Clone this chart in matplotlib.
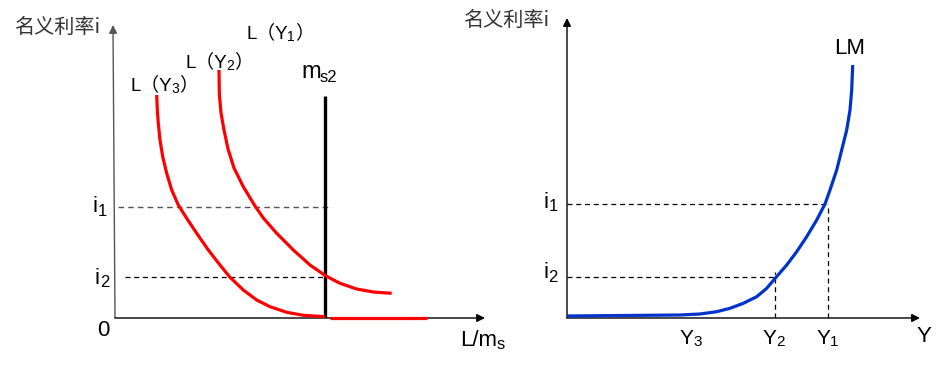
import matplotlib
matplotlib.use('Agg')
import matplotlib.pyplot as plt

plt.rcParams['font.family'] = ['Liberation Sans', 'Noto Sans CJK SC']

# ---------------- data ----------------
# left panel: money demand curves (quantity, interest rate)
ly3_q = [4.17, 4.23, 4.33, 4.5, 4.77, 5.17, 5.67, 6.33, 7.17, 8.17, 9.33, 10.5,
         11.5, 12.83, 14.17, 15.5, 17.17, 18.83, 21.0]
ly3_i = [22.3, 20.8, 19.47, 17.8, 16.13, 14.47, 12.8, 11.3, 9.97, 8.47, 6.8, 5.3,
         4.07, 2.8, 1.8, 1.13, 0.57, 0.27, 0.13]
ly3_flat_q = [21.5, 31.2]
ly3_flat_i = [0.0, 0.0]
ly2_q = [10.4, 10.43, 10.6, 10.9, 11.3, 11.9, 12.83, 14.0, 14.83, 16.17, 17.83,
         19.5, 21.1, 22.5, 24.17, 25.83, 27.67]
ly2_i = [24.8, 22.47, 20.5, 18.8, 16.9, 15.0, 13.13, 11.2, 10.0, 8.47, 6.8,
         5.3, 4.2, 3.47, 2.9, 2.6, 2.47]
ms2 = 21.0
ms2_top = 22.2
left_i1, left_i2 = 11.1, 4.1

# right panel: LM curve (income, interest rate)
lm_y = [0.0, 11.3, 13.3, 14.97, 16.3, 17.63, 18.97, 19.97, 20.9, 21.97, 22.97,
        23.97, 24.97, 25.8, 26.3, 26.97, 27.47, 27.97, 28.3, 28.47, 28.57]
lm_i = [0.2, 0.3, 0.4, 0.63, 0.97, 1.47, 2.13, 2.97, 4.07, 5.3, 6.63,
        8.13, 9.8, 11.4, 12.8, 14.8, 16.8, 18.8, 20.8, 22.8, 25.3]
right_i1, right_i2 = 11.4, 4.1
Y1, Y2, Y3 = 26.1, 20.8, 12.3

RED = '#ff0000'
BLUE = '#0033cc'

fig = plt.figure(figsize=(9.47, 3.66), dpi=100)
ax1 = fig.add_axes([115/947, 48/366, 370/947, 298/366])
ax2 = fig.add_axes([567/947, 48/366, 353/947, 298/366])
for ax in (ax1, ax2):
    ax.set_axis_off()
ax1.set_xlim(0, 37)
ax1.set_ylim(0, 29.8)
ax2.set_xlim(0, 35.3)
ax2.set_ylim(0, 29.8)


def arrow(ax, start, tip, color='black', lw=1.0):
    ax.annotate('', xy=tip, xytext=start, annotation_clip=False, zorder=2,
                arrowprops=dict(arrowstyle='-|>', color=color, lw=lw,
                                mutation_scale=12, shrinkA=0, shrinkB=0))


def sublabel(ax, x, y, main, sub, tail='', size=16, subsize=11, color='black', dx=-0.4):
    t = ax.text(x, y, main, fontsize=size, color=color, ha='left', va='center')
    s = ax.annotate(sub, xy=(1, 0), xycoords=t, xytext=(dx, -1.2),
                    textcoords='offset points', fontsize=subsize,
                    va='bottom', ha='left', color=color)
    if tail:
        ax.annotate(tail, xy=(1, 0.5), xycoords=(s, t), xytext=(0, 0),
                    textcoords='offset points', fontsize=size,
                    va='center', ha='left', color=color)
    return t


def curve(ax, x, y, color):
    ax.plot(x, y, color=color, lw=2.3, solid_joinstyle='round',
            solid_capstyle='butt', clip_on=False, zorder=5)

# ---------------- left panel ----------------
arrow(ax1, (0, 0), (-0.2, 29.3), color='#555555', lw=1.0)
arrow(ax1, (0, 0), (37, 0), color='black', lw=1.0)
ax1.plot([0.3, 21.7], [left_i1, left_i1], ls=(0, (4, 3)), color='#555555', lw=1.0)
ax1.plot([1.0, 21.0], [left_i2, left_i2], ls=(0, (4, 3)), color='black', lw=0.9)
ax1.plot([ms2, ms2], [0, ms2_top], color='black', lw=2.4, solid_capstyle='butt', zorder=4)
curve(ax1, ly3_q, ly3_i, RED)
curve(ax1, ly3_flat_q, ly3_flat_i, RED)
curve(ax1, ly2_q, ly2_i, RED)

ax1.text(-10.1, 29.1, '名义利率i', fontsize=14.5, color='#333333', ha='left', va='center',
         family=['Noto Sans CJK SC'])
sublabel(ax1, -2.3, left_i1, 'i', '1', size=16, subsize=12, dx=0.3)
sublabel(ax1, -2.0, left_i2 - 0.1, 'i', '2', size=16, subsize=12, dx=0.3)
ax1.text(-1.2, -1.2, '0', fontsize=16, ha='center', va='center')
sublabel(ax1, 34.5, -2.2, 'L/m', 's', size=16, subsize=12)
sublabel(ax1, 1.5, 23.3, 'L（Y', '3', '）', size=13.5, subsize=10)
sublabel(ax1, 7.0, 25.6, 'L（Y', '2', '）', size=13.5, subsize=10)
sublabel(ax1, 13.1, 28.5, 'L（Y', '1', '）', size=13.5, subsize=10)
sublabel(ax1, 18.6, 24.6, 'm', 's2', size=17, subsize=12)

# ---------------- right panel ----------------
arrow(ax2, (0, 0), (0, 30.0), color='black', lw=1.0)
arrow(ax2, (0, 0), (35.3, 0), color='black', lw=1.0)
ax2.plot([0, Y1], [right_i1, right_i1], ls=(0, (4, 3)), color='black', lw=0.9)
ax2.plot([0, Y2], [right_i2, right_i2], ls=(0, (4, 3)), color='black', lw=0.9)
ax2.plot([Y1, Y1], [0, right_i1], ls=(0, (4, 3)), color='black', lw=0.9)
ax2.plot([Y2, Y2], [0, right_i2 + 0.5], ls=(0, (4, 3)), color='black', lw=0.9)
curve(ax2, lm_y, lm_i, BLUE)

ax2.text(-10.4, 29.8, '名义利率i', fontsize=14.5, color='#333333', ha='left', va='center',
         family=['Noto Sans CJK SC'])
sublabel(ax2, -2.4, right_i1 + 0.2, 'i', '1', size=16, subsize=12, dx=0.3)
sublabel(ax2, -2.4, right_i2 + 0.4, 'i', '2', size=16, subsize=12, dx=0.3)
sublabel(ax2, Y3 - 1.0, -2.0, 'Y', '3', size=15, subsize=11)
sublabel(ax2, Y2 - 1.2, -2.0, 'Y', '2', size=15, subsize=11)
sublabel(ax2, Y1 - 1.1, -2.0, 'Y', '1', size=15, subsize=11)
ax2.text(35.7, -1.9, 'Y', fontsize=16, ha='center', va='center')
ax2.text(28.3, 27.0, 'LM', fontsize=16, ha='center', va='center')

fig.savefig('out.png', dpi=100)
